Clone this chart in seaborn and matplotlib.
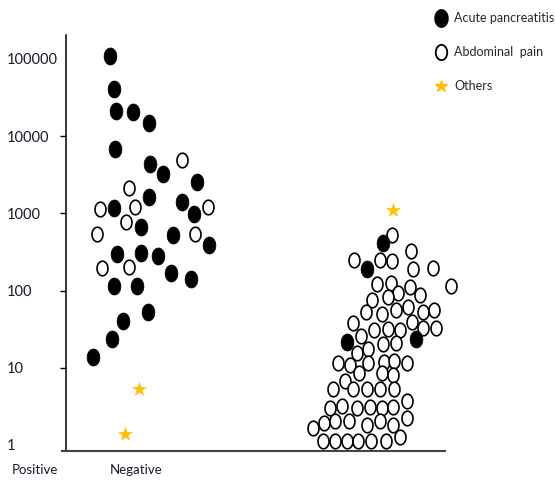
import numpy as np
import pandas as pd
import matplotlib.pyplot as plt
import matplotlib.ticker as mticker
from matplotlib.lines import Line2D
from matplotlib.path import Path
import seaborn as sns

# horizontal position of each dot (0 = y axis, 100 = end of x axis) and its value
acute_pos = [11.6, 12.7, 13.2, 17.6, 21.8, 13.0, 22.2, 25.7, 34.6, 21.8, 12.7, 30.6, 33.9, 19.8,
             28.3, 37.8, 13.4, 19.7, 24.3, 27.6, 32.9, 12.7, 18.7, 21.6, 15.1, 12.1, 7.1,
             83.6, 79.5, 74.2, 92.3]
acute_val = [109000, 40400, 21100, 20500, 14900, 6800, 4350, 3200, 2520, 1640, 1160, 1410, 970, 670,
             524, 388, 297, 309, 280, 167, 140, 114, 114, 52.7, 39.9, 23.8, 13.6,
             416, 188, 21.7, 23.5]

abdo_pos = [30.7, 16.5, 9.0, 18.2, 37.5, 15.8, 8.3, 34.0, 9.4, 16.7,
            86.1, 91.0, 76.1, 82.8, 86.1, 91.6, 96.9, 101.5, 82.1, 85.7,
            90.8, 87.7, 84.9, 93.4, 80.7, 79.1, 83.3, 87.1, 90.2, 94.3,
            97.2, 75.8, 91.2, 81.3, 85.0, 88.1, 94.3, 97.6, 77.8, 87.1,
            83.6, 79.6, 76.7, 71.8, 74.9, 79.8, 83.9, 86.5, 90.1, 77.3,
            83.3, 86.4, 73.6, 70.5, 75.8, 79.3, 82.8, 86.5, 89.9, 69.7,
            72.9, 76.7, 80.2, 83.3, 86.2, 89.9, 65.3, 68.2, 71.0, 74.7,
            79.3, 82.8, 86.2, 67.9, 71.0, 74.1, 77.0, 80.5, 84.4, 88.1]
abdo_val = [4900, 2110, 1127, 1197, 1197, 778, 540, 540, 194, 200,
            524, 325, 248, 248, 241, 192, 197, 114, 121, 126,
            110, 92, 83, 87, 75, 52, 50, 56, 61, 53,
            56, 38, 39, 31, 32, 31, 33, 33, 26, 21,
            20, 17.5, 15.6, 11.6, 10.9, 11.6, 12.0, 12.2, 11.6, 8.6,
            8.5, 8.0, 6.7, 5.3, 5.25, 5.25, 5.25, 5.25, 3.7, 2.98,
            3.19, 2.98, 3.07, 2.98, 3.07, 2.21, 1.67, 1.90, 2.04, 2.04,
            1.81, 2.04, 1.81, 1.13, 1.13, 1.13, 1.13, 1.13, 1.13, 1.28]

others_pos = [19.3, 15.6, 86.2]
others_val = [5.25, 1.38, 1104]

ytick_vals = [1, 10, 100, 1000, 10000, 100000]
xlabels = ["Positive", "Negative"]
legend_labels = ["Acute pancreatitis", "Abdominal  pain", "Others"]

sns.set_theme(style="white")
plt.rcParams['font.family'] = ['Lato', 'DejaVu Sans']

# the dots in the original are slightly taller than wide
t = np.linspace(0, 2 * np.pi, 60)
oval = Path(np.column_stack([np.cos(t) / 1.33, np.sin(t)]), closed=True)

fig = plt.figure(figsize=(5.55, 4.82), dpi=100)
ax = fig.add_axes([66 / 555, 1 - 451 / 482, (470 - 66) / 555, (451 - 35) / 482])

acute = pd.DataFrame({"pos": acute_pos, "val": acute_val})
abdo = pd.DataFrame({"pos": abdo_pos, "val": abdo_val})
others = pd.DataFrame({"pos": others_pos, "val": others_val})

sns.scatterplot(data=abdo, x="pos", y="val", ax=ax, s=110, marker=oval,
                facecolor="white", edgecolor="black", linewidth=1.2, clip_on=False, zorder=3)
sns.scatterplot(data=acute, x="pos", y="val", ax=ax, s=150, marker=oval,
                color="black", edgecolor="black", linewidth=0.5, clip_on=False, zorder=4)
sns.scatterplot(data=others, x="pos", y="val", ax=ax, s=110, marker="*",
                color="#FFC000", edgecolor="#FFC000", linewidth=0.3, clip_on=False, zorder=4)

ax.set_yscale("log")
ax.set_ylim(0.834, 204000)
ax.set_xlim(0, 106.6)
ax.set_xlabel("")
ax.set_ylabel("")
ax.set_xticks([])

ax.yaxis.set_major_locator(mticker.FixedLocator(ytick_vals))
ax.yaxis.set_minor_locator(mticker.NullLocator())
ax.set_yticklabels([str(v) for v in ytick_vals])
ax.tick_params(axis="y", left=True, length=4, width=1, color="black",
               pad=39, labelsize=10.5, labelcolor="#1a1a2e")
for lab in ax.get_yticklabels():
    lab.set_horizontalalignment("left")
ticks = ax.yaxis.get_major_ticks()
ticks[0].tick1line.set_visible(False)
ticks[-1].tick1line.set_visible(False)

for side in ["top", "right"]:
    ax.spines[side].set_visible(False)
ax.spines["left"].set_color("black")
ax.spines["left"].set_linewidth(1.1)
ax.spines["bottom"].set_color("#444444")
ax.spines["bottom"].set_linewidth(1.5)
ax.spines["bottom"].set_bounds(-1, 100)

fig.text(12 / 555, 1 - 470 / 482, xlabels[0], fontsize=9.5, va="center", ha="left", color="#1a1a2e")
fig.text(110 / 555, 1 - 470 / 482, xlabels[1], fontsize=9.5, va="center", ha="left", color="#1a1a2e")

handles = [
    Line2D([], [], marker=oval, linestyle="", markersize=12.5, markerfacecolor="black", markeredgecolor="black"),
    Line2D([], [], marker=oval, linestyle="", markersize=11, markerfacecolor="white",
           markeredgecolor="black", markeredgewidth=1.3),
    Line2D([], [], marker="*", linestyle="", markersize=9, markerfacecolor="#FFC000", markeredgecolor="#FFC000"),
]
fig.legend(handles, legend_labels, loc="upper left", bbox_to_anchor=(428 / 555, 1 - 6 / 482),
           frameon=False, fontsize=9, labelspacing=1.75, handletextpad=0.6, handlelength=1.0,
           borderpad=0)

fig.savefig("out.png", dpi=100)
